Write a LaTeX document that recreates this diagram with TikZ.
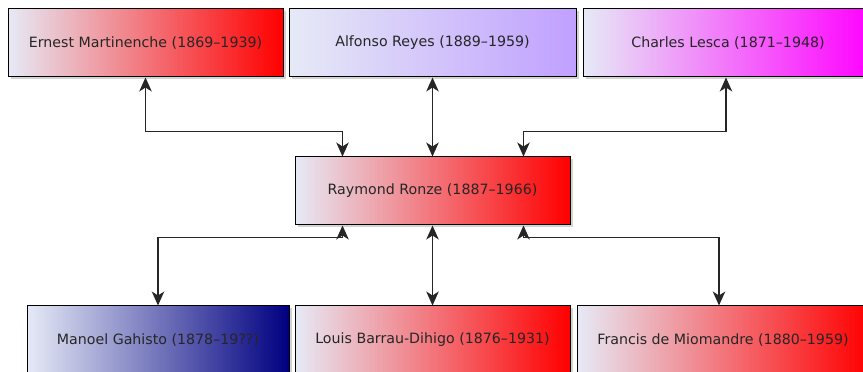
\documentclass[tikz,border=0pt]{standalone}
\usepackage{fontspec}
\setmainfont{DejaVu Sans}
\usetikzlibrary{arrows.meta, shadows}

\definecolor{paleblue}{RGB}{230,234,246}
\definecolor{lilac}{RGB}{192,160,255}
\definecolor{navyblue}{RGB}{0,0,128}

\tikzset{
  person/.style={draw=black, line width=1pt, minimum height=68pt, inner sep=0pt,
    font=\fontsize{14.2}{17}\selectfont, text=black!85, left color=paleblue, right color=#1,
    drop shadow={shadow xshift=2.5pt, shadow yshift=-2.5pt, opacity=0.35}},
  link/.style={draw=black!85, line width=1.2pt,
    {Stealth[length=14pt, width=12.5pt, inset=4pt]}-{Stealth[length=14pt, width=12.5pt, inset=4pt]}}
}

\begin{document}
\begin{tikzpicture}[x=1pt, y=1pt]
			\useasboundingbox (0, 0) rectangle (863, 372);
			\clip (0, 0) rectangle (863, 372);
			% Top row:
			\node[person=red, minimum width=275pt](em) at (145.5, 329){Ernest Martinenche (1869--1939)};
			\node[person=lilac, minimum width=287pt](ar) at (432.5, 329){Alfonso Reyes (1889--1959)};
			\node[person=magenta, minimum width=290pt](cl) at (728, 329){Charles Lesca (1871--1948)};
			% Middle:
			\node[person=red, minimum width=275pt](rr) at (432.5, 181){Raymond Ronze (1887--1966)};
			% Bottom row:
			\node[person=navyblue, minimum width=262pt](mg) at (158, 32){Manoel Gahisto (1878--19??)};
			\node[person=red, minimum width=275pt](lb) at (432.5, 32){Louis Barrau-Dihigo (1876--1931)};
			\node[person=red, minimum width=292pt](fm) at (723, 32){Francis de Miomandre (1880--1959)};
			% Links:
			\draw[link] (em.south) -- ++(0, -54) -| ([xshift=-90pt]rr.north);
			\draw[link] (ar.south) -- (rr.north);
			\draw[link] ([xshift=-2pt]cl.south) -- ++(0, -54) -| ([xshift=91pt]rr.north);
			\draw[link] ([xshift=-90pt]rr.south) -- ++(0, -12) -| (mg.north);
			\draw[link] (rr.south) -- (lb.north);
			\draw[link] ([xshift=91pt]rr.south) -- ++(0, -12) -| ([xshift=-4pt]fm.north);
		\end{tikzpicture}
\end{document}
